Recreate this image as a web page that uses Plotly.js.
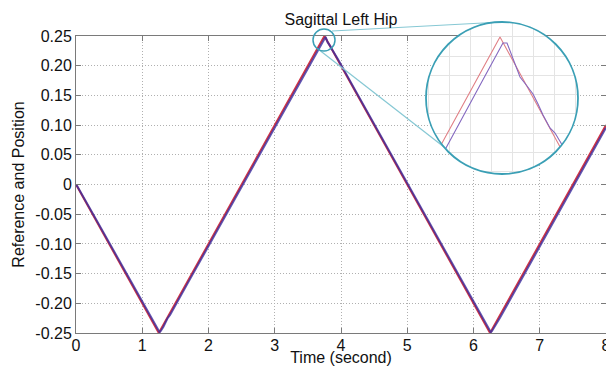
<!DOCTYPE html>
<html>
<head>
<meta charset="utf-8">
<script src="https://cdn.plot.ly/plotly-3.0.1.min.js"></script>
<style>
  html, body { margin: 0; padding: 0; background: #ffffff; }
  #chart { width: 606px; height: 366px; }
</style>
</head>
<body>
<div id="chart"></div>
<script>
// ---- Data ----
const chartTitle = 'Sagittal Left Hip';
const xTitle = 'Time (second)';
const yTitle = 'Reference and Position';

// Reference trajectory (triangle wave vertices)
const timeRef = [0, 1.25, 3.75, 6.25, 8];
const reference = [0, -0.25, 0.25, -0.25, 0.1];

// Measured position
const timePos = [0, 0.02, 0.3, 0.6, 0.9, 1.2, 1.262, 1.28, 1.32, 1.38, 1.42, 1.7, 2.0, 2.5, 3.0, 3.3, 3.5,
  3.6214, 3.7, 3.757, 3.7667, 3.7976, 3.8143, 3.8286, 3.8405, 3.8524, 3.869, 3.881, 3.8952, 3.95,
  4.2, 4.6, 5.0, 5.5, 6.0, 6.2, 6.262, 6.28, 6.32, 6.4, 6.6, 7.0, 7.5, 8.0];
const position = [0, -0.003, -0.058, -0.117, -0.177, -0.237, -0.2488, -0.2465, -0.2395, -0.2255, -0.2195, -0.1635, -0.1035, -0.0035, 0.0965, 0.1565, 0.1965,
  0.2211, 0.237, 0.24844, 0.24844, 0.23959, 0.23725, 0.23517, 0.23257, 0.2297, 0.22632, 0.22502, 0.22242, 0.2115,
  0.1615, 0.0815, 0.0015, -0.0985, -0.1985, -0.2385, -0.2488, -0.2465, -0.2395, -0.2245, -0.1845, -0.1045, -0.0045, 0.0955];

// Tick labels
const xTickVals = [0, 1, 2, 3, 4, 5, 6, 7, 8];
const yTickVals = [0.25, 0.20, 0.15, 0.10, 0.05, 0, -0.05, -0.10, -0.15, -0.20, -0.25];
const yTickText = ['0.25', '0.20', '0.15', '0.10', '0.05', '0', '-0.05', '-0.10', '-0.15', '-0.20', '-0.25'];

// ---- Styling ----
const FONT = 'Liberation Sans, Arial, Helvetica, sans-serif';
const RED = '#cf3546';
const BLUE = '#3a2c9e';
const TEAL = '#3a9fb5';
const TEAL_LIGHT = '#86c8d4';

const traces = [
  { x: timeRef, y: reference, xaxis: 'x', yaxis: 'y', mode: 'lines', name: 'Reference',
    line: { color: RED, width: 2 }, hoverinfo: 'skip' },
  { x: timePos, y: position, xaxis: 'x', yaxis: 'y', mode: 'lines', name: 'Position',
    line: { color: BLUE, width: 2 }, opacity: 0.8, hoverinfo: 'skip' },
  // magnified view
  { x: timeRef, y: reference, xaxis: 'x2', yaxis: 'y2', mode: 'lines', name: 'Reference (zoom)',
    line: { color: '#e07f85', width: 1.1 }, hoverinfo: 'skip' },
  { x: timePos, y: position, xaxis: 'x2', yaxis: 'y2', mode: 'lines', name: 'Position (zoom)',
    line: { color: '#8468c0', width: 1.1 }, hoverinfo: 'skip' }
];

const axisCommon = {
  showline: true, linecolor: '#7a7a7a', linewidth: 1, mirror: 'ticks',
  ticks: 'inside', ticklen: 5, tickcolor: '#7a7a7a', tickwidth: 1,
  showgrid: true, gridcolor: '#b0b0b0', griddash: '1px,2px', gridwidth: 1,
  zeroline: false, tickfont: { family: FONT, size: 16, color: '#111' }
};

const layout = {
  width: 606, height: 366,
  margin: { l: 76, r: 0, t: 20, b: 33 },
  paper_bgcolor: '#ffffff', plot_bgcolor: '#ffffff',
  showlegend: false,
  title: { text: chartTitle, font: { family: FONT, size: 16, color: '#111' },
           x: 0.5, xref: 'paper', xanchor: 'center', y: 0.948, yref: 'container', yanchor: 'middle' },
  xaxis: Object.assign({}, axisCommon, {
    range: [0, 8], tickvals: xTickVals, domain: [0, 1], ticklabeloverflow: 'allow',
    ticklabelstandoff: -2,
    title: { text: xTitle, font: { family: FONT, size: 16, color: '#111' }, standoff: 2 }
  }),
  yaxis: Object.assign({}, axisCommon, {
    range: [-0.25, 0.25], tickvals: yTickVals, ticktext: yTickText, domain: [0, 0.94888],
    title: { text: yTitle, font: { family: FONT, size: 16, color: '#111' }, standoff: 6 }
  }),
  xaxis2: {
    domain: [0.66038, 0.94717], range: [3.5738, 3.9357], anchor: 'y2',
    showline: false, ticks: '', showticklabels: false, zeroline: false,
    showgrid: true, gridcolor: '#e4e4e4', gridwidth: 1, tick0: 3.629, dtick: 0.05
  },
  yaxis2: {
    domain: [0.50799, 0.99361], range: [0.21435, 0.2539], anchor: 'x2',
    showline: false, ticks: '', showticklabels: false, zeroline: false,
    showgrid: true, gridcolor: '#e4e4e4', gridwidth: 1, tick0: 0.25, dtick: 0.005
  },
  shapes: [
    // connector lines
    { type: 'line', xref: 'paper', yref: 'paper', x0: 0.48302, y0: 0.96486, x1: 0.80377, y1: 0.99361,
      line: { color: TEAL_LIGHT, width: 1.2 }, layer: 'above' },
    { type: 'line', xref: 'paper', yref: 'paper', x0: 0.45660, y0: 0.90735, x1: 0.69434, y1: 0.59425,
      line: { color: TEAL_LIGHT, width: 1.2 }, layer: 'above' },
    // small circle around the peak
    { type: 'circle', xref: 'paper', yref: 'paper', x0: 0.44717, x1: 0.48868, y0: 0.90096, y1: 0.97125,
      line: { color: TEAL, width: 1.5 }, layer: 'above' },
    // big magnifier circle
    { type: 'circle', xref: 'x2 domain', yref: 'y2 domain', x0: 0, x1: 1, y0: 0, y1: 1,
      line: { color: TEAL, width: 1.8 }, layer: 'above' }
  ]
};

const gd = document.getElementById('chart');
Plotly.newPlot(gd, traces, layout, { staticPlot: true, displayModeBar: false }).then(function () {
  // Clip the magnified subplot to a circle
  const fl = gd._fullLayout;
  const xa = fl.xaxis2, ya = fl.yaxis2;
  const cx = xa._offset + xa._length / 2;
  const cy = ya._offset + ya._length / 2;
  const r = Math.min(xa._length, ya._length) / 2;
  const svg = gd.querySelector('svg.main-svg');
  const NS = 'http://www.w3.org/2000/svg';
  let defs = svg.querySelector('defs');
  if (!defs) { defs = document.createElementNS(NS, 'defs'); svg.insertBefore(defs, svg.firstChild); }
  const cp = document.createElementNS(NS, 'clipPath');
  cp.setAttribute('id', 'magnifierClip');
  const c = document.createElementNS(NS, 'circle');
  c.setAttribute('cx', cx); c.setAttribute('cy', cy); c.setAttribute('r', r);
  cp.appendChild(c);
  defs.appendChild(cp);
  const sub = svg.querySelector('g.subplot.x2y2');
  if (sub) sub.setAttribute('clip-path', 'url(#magnifierClip)');
});
</script>
</body>
</html>
